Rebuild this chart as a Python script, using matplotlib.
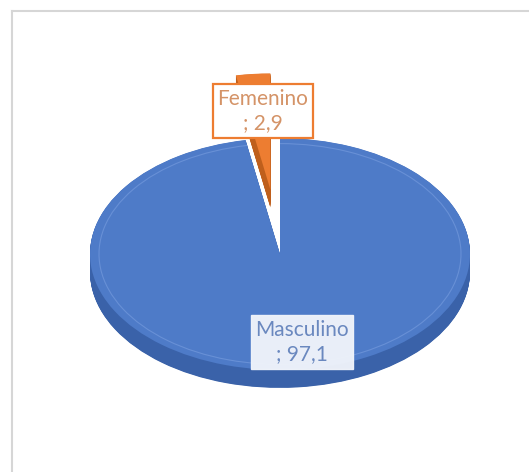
import numpy as np
import matplotlib.pyplot as plt
from matplotlib.lines import Line2D
from matplotlib.patches import Arc

# datos del gráfico
labels = ["Masculino", "Femenino"]
values = [97.1, 2.9]
explode = [0, 0.56]     # fracción del radio

top_colors = ["#4E7BC8", "#ED7D31"]
side_colors = ["#3A62A9", "#BF5F1C"]
text_colors = ["#6A88BF", "#D49367"]

W, H = 529, 472
squash = 0.61           # inclinación de la vista 3D
cx, cy = 280, (H - 254) / squash
radius = 190
depth = 18 / squash

fig = plt.figure(figsize=(W / 100, H / 100), dpi=100)
ax = fig.add_axes([0, 0, 1, 1])

def draw_pie(yoff, colors, zorders):
    wedges, _ = ax.pie(values, explode=[e * radius for e in explode], colors=colors,
                       radius=radius, center=(cx, cy - yoff), startangle=90,
                       counterclock=False, wedgeprops=dict(linewidth=0))
    for w, z in zip(wedges, zorders):
        w.set_zorder(z)
    return wedges

# cara lateral: capas desplazadas hacia abajo
for d in np.linspace(depth, 0.5, 36):
    draw_pie(d, side_colors, [1, 3])
top = draw_pie(0, top_colors, [2, 4])

# línea de bisel sobre la cara superior del sector azul
start = 90 - 360 * values[0] / sum(values)
ax.add_patch(Arc((cx, cy), 2 * (radius - 9), 2 * (radius - 9), theta1=start, theta2=90,
                 color="#6890D6", lw=0.8, zorder=5))

ax.set_aspect("auto")
ax.set_xlim(0, W)
ax.set_ylim(0, H / squash)
ax.axis("off")

def fmt(name, v):
    return f"{name}\n; {v}".replace(".", ",")

# etiquetas de datos
ax.text(302, (H - 342) / squash, fmt(labels[0], values[0]), color=text_colors[0],
        fontsize=15, family="Lato", ha="center", va="center", linespacing=1.3, zorder=10,
        bbox=dict(boxstyle="square,pad=0.2", fc="#F2F5FB", ec="#F2F5FB", alpha=0.95))
ax.text(263, (H - 111) / squash, fmt(labels[1], values[1]), color=text_colors[1],
        fontsize=15, family="Lato", ha="center", va="center", linespacing=1.3, zorder=10,
        bbox=dict(boxstyle="square,pad=0.2", fc="white", ec="#ED7D31", lw=1.6))

# marco del área del gráfico
fc = "#D6D6D6"
fig.add_artist(Line2D([12 / W, 1], [1 - 11 / H] * 2, transform=fig.transFigure, color=fc, lw=1.5))
fig.add_artist(Line2D([12 / W] * 2, [0, 1 - 11 / H], transform=fig.transFigure, color=fc, lw=1.5))

fig.savefig("out.png", dpi=100, facecolor="white")
